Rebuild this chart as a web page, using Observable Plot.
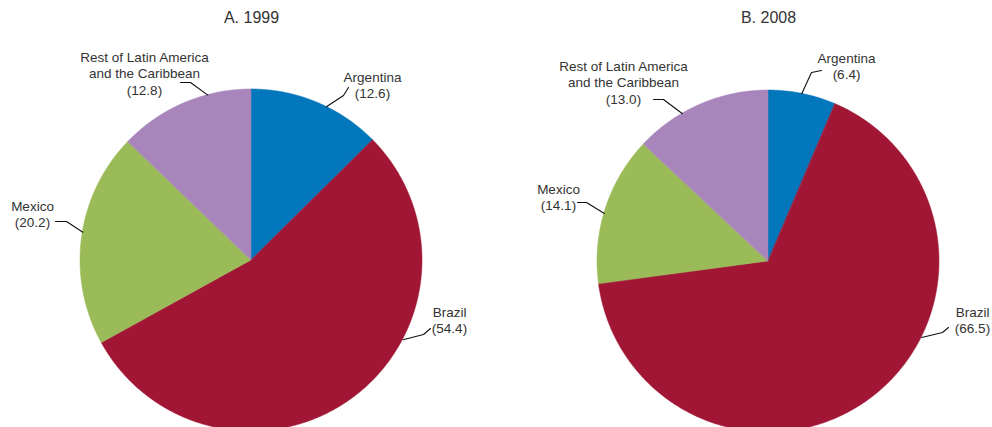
<!DOCTYPE html>
<html>
<head>
<meta charset="utf-8">
<script src="https://cdn.jsdelivr.net/npm/d3@7"></script>
<script src="https://cdn.jsdelivr.net/npm/@observablehq/plot@0.6"></script>
<style>
  html, body { margin: 0; padding: 0; background: #fff; }
  #chart svg { display: block; overflow: hidden; }
</style>
</head>
<body>
<div id="chart"></div>
<script>
// ---- data ----
const categories = ["Argentina", "Brazil", "Mexico", "Rest of Latin America and the Caribbean"];
const labelLines = [["Argentina"], ["Brazil"], ["Mexico"], ["Rest of Latin America", "and the Caribbean"]];
const panels = ["A. 1999", "B. 2008"];
const values1999 = [12.6, 54.4, 20.2, 12.8];
const values2008 = [6.4, 66.5, 14.1, 13.0];
const colors = ["#0277bb", "#a01634", "#9bbb59", "#a886bc"];

// ---- layout (pixel-like units of the x/y scales) ----
const W = 992, H = 427;
const LINE_PX = 16.5;
const pieLayout = [
  {cx: 251, cy: 260, r: 171, titleY: 17},
  {cx: 768, cy: 261, r: 171, titleY: 17}
];
// per panel, per category: rim angle (deg, clockwise from top), elbow, end, text center x, first line center y
const labelLayout = [
  [
    {rim: 26.0, elbow: [343, 95], end: [348, 87], tx: 372, ty: 76},
    {rim: 117.6, elbow: [423, 334], end: [430, 328], tx: 449, ty: 311},
    {rim: 279.5, elbow: [66, 221], end: [55, 221], tx: 32, ty: 205},
    {rim: 345.2, elbow: [190, 82], end: [180, 82], tx: 144, ty: 56}
  ],
  [
    {rim: 11.2, elbow: [811, 72], end: [821, 70], tx: 846, ty: 57},
    {rim: 116.4, elbow: [942, 332], end: [948, 327], tx: 972, ty: 311},
    {rim: 286.3, elbow: [586, 202], end: [577, 202], tx: 558, ty: 188},
    {rim: 329.8, elbow: [663, 99], end: [653, 99], tx: 623, ty: 65}
  ]
];

const allValues = [values1999, values2008];

const wedges = [];
const leaders = [];
const labels = [];
const titles = [];
allValues.forEach((vals, p) => {
  const L = pieLayout[p];
  titles.push({x: L.cx, y: L.titleY, text: panels[p]});
  const arcs = d3.pie().sort(null).value(d => d)(vals);
  arcs.forEach((a, i) => {
    const n = Math.max(2, Math.ceil((a.endAngle - a.startAngle) / (Math.PI / 360)));
    for (let k = 0; k <= n; ++k) {
      const t = a.startAngle + (a.endAngle - a.startAngle) * k / n;
      wedges.push({
        key: p + "-" + i, cat: categories[i],
        x1: L.cx, y1: L.cy,
        x2: L.cx + L.r * Math.sin(t), y2: L.cy - L.r * Math.cos(t)
      });
    }
    const lay = labelLayout[p][i];
    const ra = lay.rim * Math.PI / 180;
    const key = p + "-" + i;
    leaders.push({key, x: L.cx + L.r * Math.sin(ra), y: L.cy - L.r * Math.cos(ra)});
    leaders.push({key, x: lay.elbow[0], y: lay.elbow[1]});
    leaders.push({key, x: lay.end[0], y: lay.end[1]});
    const lines = labelLines[i].concat(["(" + vals[i].toFixed(1) + ")"]);
    labels.push({x: lay.tx, y: lay.ty + (lines.length - 1) * LINE_PX / 2, text: lines.join("\n")});
  });
});

const FS = 13.5;
const chart = Plot.plot({
  width: W, height: H,
  margin: 0,
  style: {fontFamily: "Arial, 'Liberation Sans', Helvetica, sans-serif", background: "#fff"},
  x: {type: "linear", domain: [0, W], range: [0, W], axis: null},
  y: {type: "linear", domain: [0, H], range: [0, H], axis: null},
  color: {type: "ordinal", domain: categories, range: colors},
  marks: [
    Plot.area(wedges, {x1: "x1", y1: "y1", x2: "x2", y2: "y2", z: "key", fill: "cat", stroke: "cat", strokeWidth: 0.5, curve: "linear"}),
    Plot.line(leaders, {x: "x", y: "y", z: "key", stroke: "#111", strokeWidth: 1.1}),
    Plot.text(labels, {x: "x", y: "y", text: "text", fontSize: FS, lineHeight: LINE_PX / FS, lineAnchor: "middle", textAnchor: "middle", fill: "#333"}),
    Plot.text(titles, {x: "x", y: "y", text: "text", fontSize: 16, textAnchor: "middle", fill: "#333"})
  ]
});
document.getElementById("chart").appendChild(chart);
</script>
</body>
</html>
